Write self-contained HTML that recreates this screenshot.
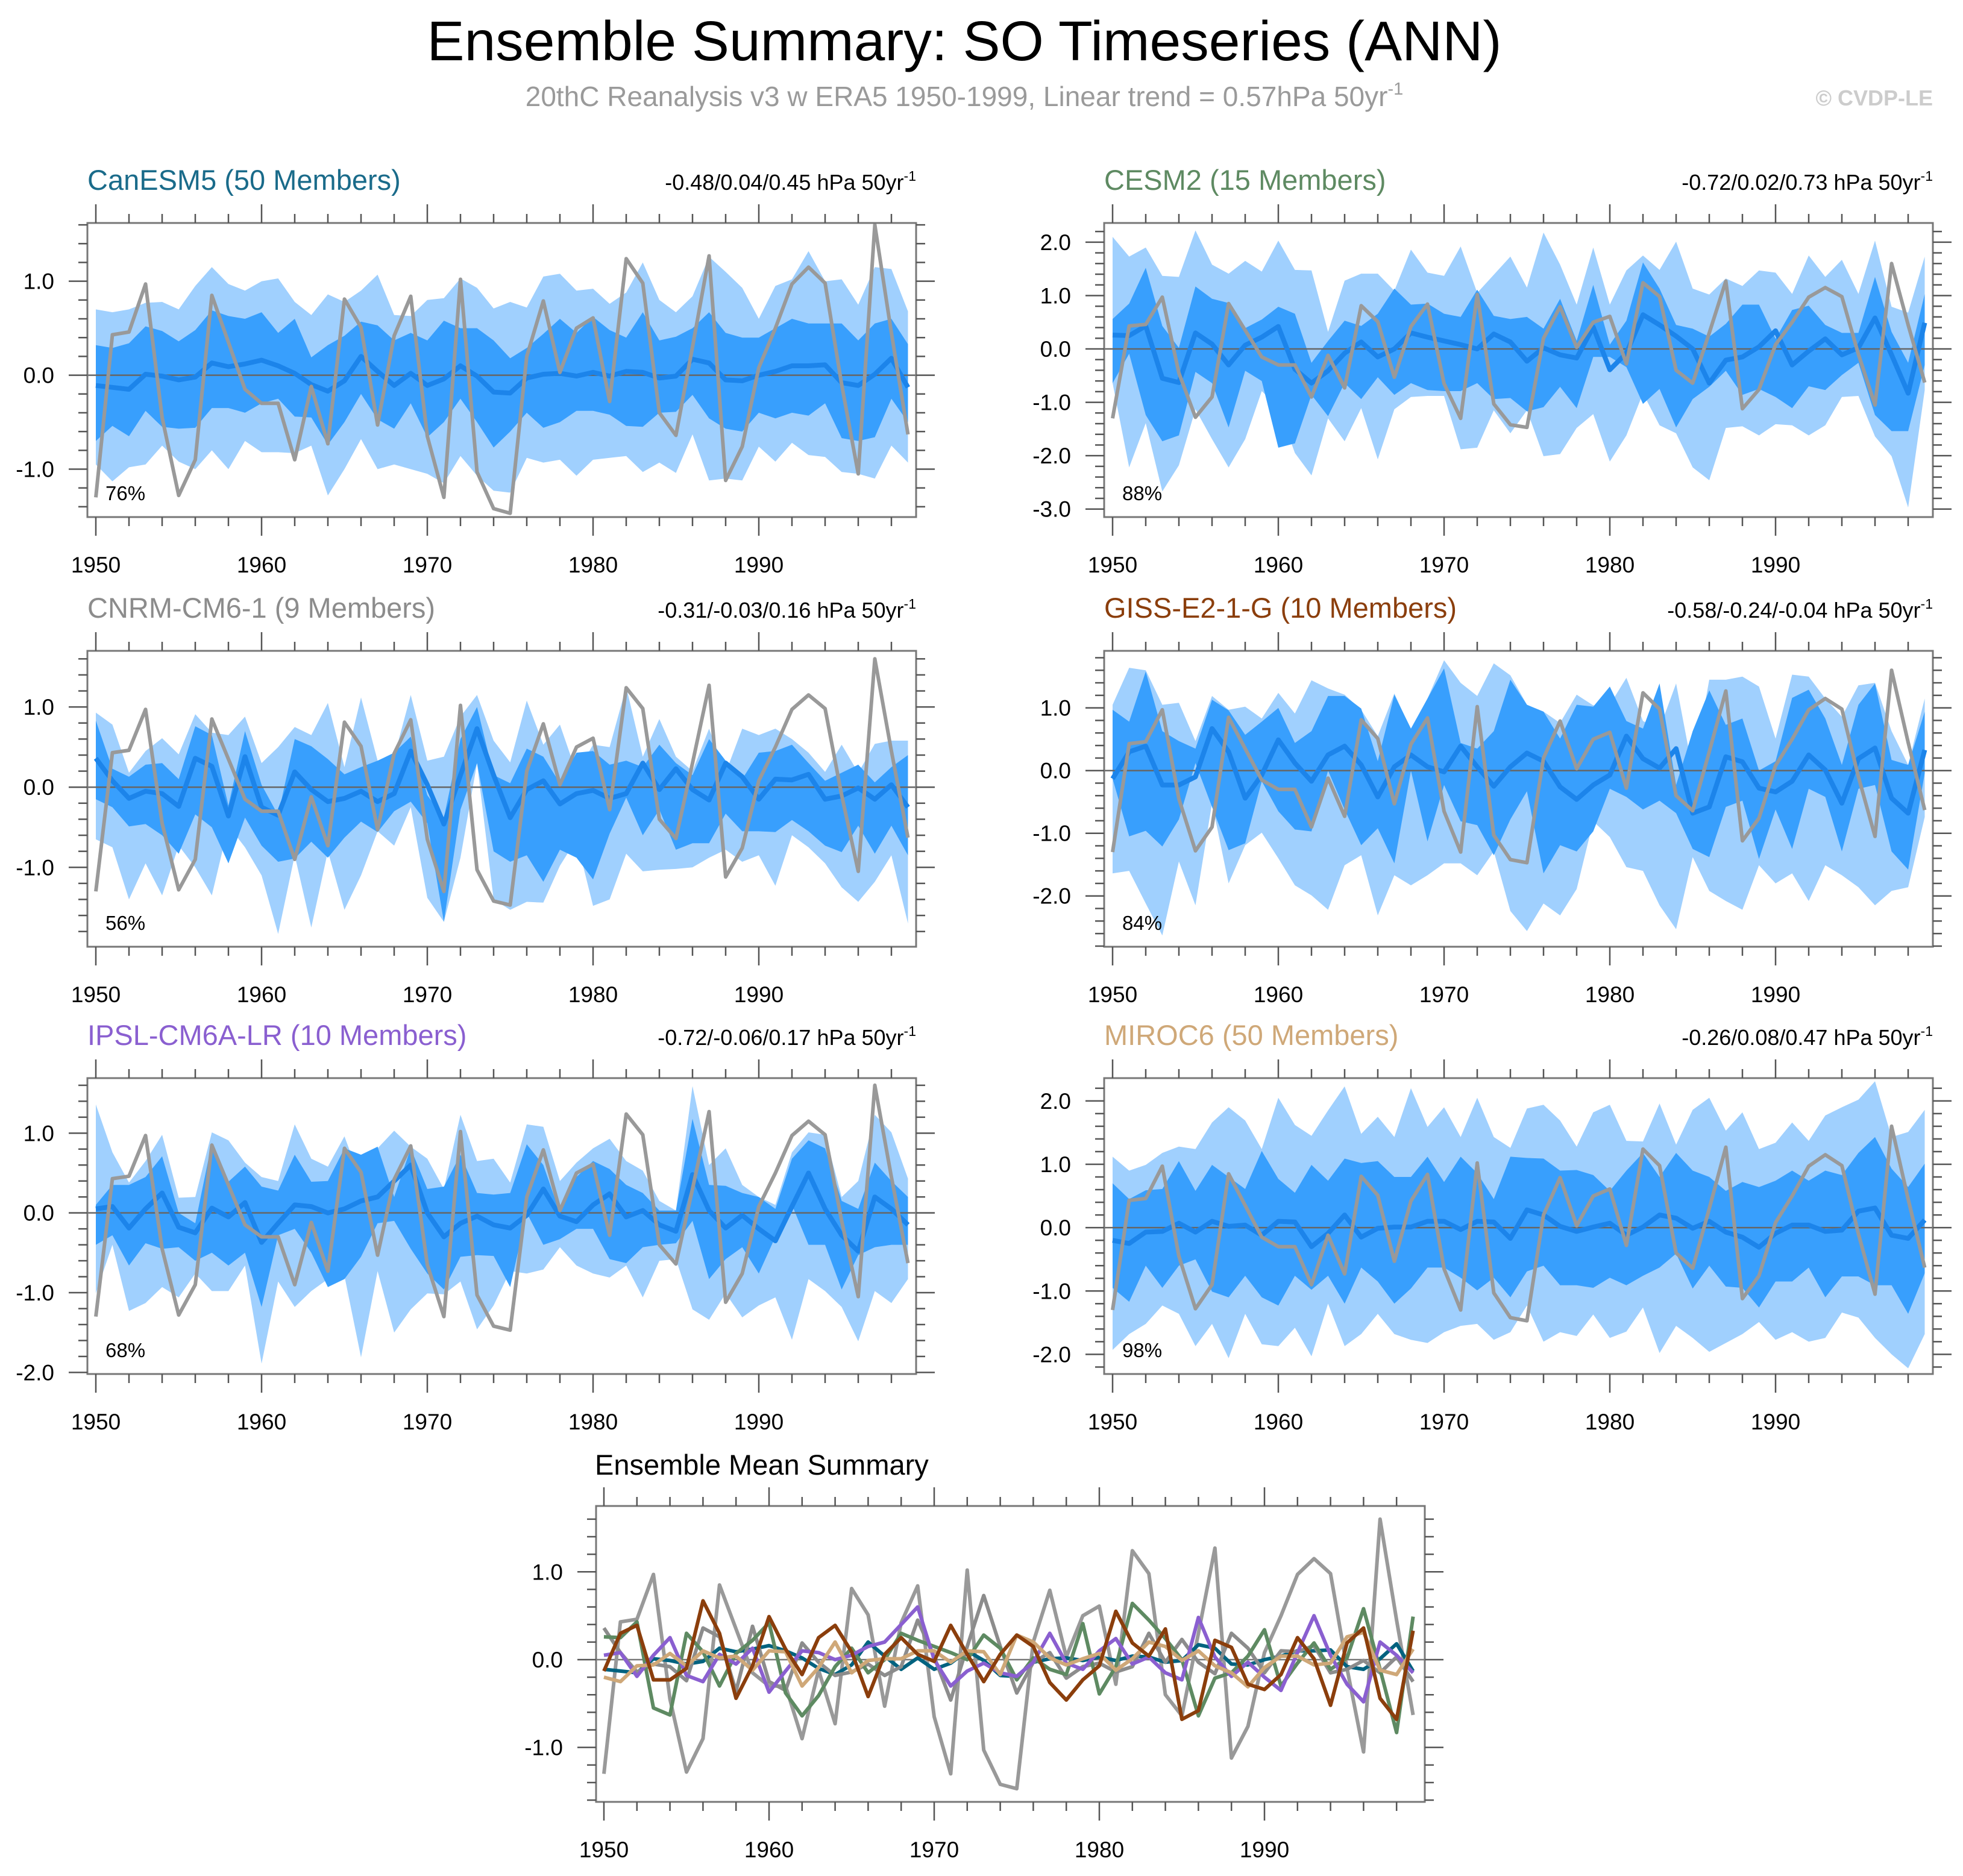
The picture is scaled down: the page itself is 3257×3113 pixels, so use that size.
<!DOCTYPE html>
<html><head><meta charset="utf-8">
<style>
html,body{margin:0;padding:0;background:#fff;}
svg{display:block;font-family:"Liberation Sans",Arial,sans-serif;}
</style></head>
<body>
<svg id="fig" xmlns="http://www.w3.org/2000/svg" width="3257" height="3113" viewBox="0 0 3257 3113">
<rect x="0" y="0" width="3257" height="3113" fill="#fff"/>
<text x="1600" y="100" font-size="93" text-anchor="middle" fill="#000">Ensemble Summary: SO Timeseries (ANN)</text>
<text x="1600" y="176" font-size="46" text-anchor="middle" fill="#9a9a9a">20thC Reanalysis v3 w ERA5 1950-1999, Linear trend = 0.57hPa 50yr<tspan font-size="29" dy="-19">-1</tspan></text>
<text x="3207" y="175" font-size="36" font-weight="bold" text-anchor="end" fill="#cccccc">© CVDP-LE</text>
</svg>
<script>
// ---------- data ----------
const startYear = 1950;
const nYears = 50;
const obsSeries = [-1.30,0.43,0.46,0.97,-0.45,-1.28,-0.90,0.85,0.35,-0.15,-0.30,-0.30,-0.90,-0.12,-0.73,0.81,0.51,-0.53,0.42,0.84,-0.65,-1.30,1.02,-1.03,-1.42,-1.47,0.20,0.79,0.03,0.50,0.61,-0.28,1.24,0.98,-0.40,-0.64,0.30,1.27,-1.12,-0.76,0.08,0.50,0.97,1.15,0.98,-0.10,-1.05,1.60,0.45,-0.63];

const canMean = [-0.11,-0.13,-0.15,0.01,-0.01,-0.05,-0.02,0.13,0.09,0.12,0.16,0.10,0.02,-0.10,-0.17,-0.06,0.20,0.04,-0.11,0.02,-0.11,-0.04,0.10,-0.01,-0.18,-0.19,-0.03,0.01,0.02,-0.01,0.03,-0.01,0.04,0.03,-0.03,-0.01,0.17,0.13,-0.05,-0.06,0.00,0.04,0.10,0.10,0.11,-0.08,-0.11,0.01,0.18,-0.13];
const canOutHi = [0.7,0.67,0.7,0.77,0.78,0.7,0.95,1.15,0.97,0.9,1.0,1.03,0.78,0.64,0.86,0.78,0.9,1.07,0.64,0.63,0.8,0.82,1.03,0.93,0.71,0.78,0.72,1.05,1.08,0.9,0.92,0.76,0.88,1.2,0.8,0.67,0.84,1.26,1.1,0.93,0.6,0.95,1.02,1.32,1.0,1.02,0.75,1.15,1.13,0.68];
const canInHi = [0.32,0.29,0.34,0.52,0.47,0.36,0.48,0.69,0.63,0.6,0.67,0.45,0.6,0.19,0.32,0.42,0.57,0.53,0.37,0.45,0.37,0.58,0.5,0.5,0.37,0.18,0.29,0.44,0.6,0.45,0.62,0.48,0.4,0.67,0.37,0.41,0.5,0.67,0.45,0.4,0.4,0.5,0.6,0.55,0.55,0.55,0.37,0.55,0.6,0.33];
const canInLo = [-0.7,-0.54,-0.65,-0.38,-0.55,-0.57,-0.56,-0.35,-0.35,-0.4,-0.3,-0.25,-0.44,-0.45,-0.74,-0.5,-0.2,-0.47,-0.57,-0.3,-0.66,-0.5,-0.25,-0.5,-0.77,-0.6,-0.4,-0.56,-0.5,-0.38,-0.38,-0.42,-0.54,-0.55,-0.4,-0.39,-0.21,-0.46,-0.57,-0.6,-0.4,-0.46,-0.4,-0.43,-0.3,-0.67,-0.7,-0.66,-0.25,-0.5];
const canOutLo = [-0.95,-1.13,-0.98,-0.95,-0.75,-0.92,-1.0,-0.8,-1.0,-0.7,-0.82,-0.82,-0.83,-0.75,-1.28,-1.0,-0.68,-1.0,-0.95,-1.0,-1.05,-1.15,-0.86,-1.07,-1.23,-1.25,-0.88,-0.93,-0.9,-1.07,-0.9,-0.88,-0.86,-1.03,-0.93,-1.04,-0.63,-1.12,-1.1,-1.12,-0.76,-0.92,-0.72,-0.85,-0.87,-1.03,-1.05,-1.1,-0.75,-0.93];

const cesmMean = [0.26,0.25,0.43,-0.55,-0.63,0.30,0.09,-0.30,0.07,0.22,0.42,-0.38,-0.64,-0.41,-0.08,0.13,-0.15,0.00,0.30,0.22,0.15,0.08,0.00,0.28,0.13,-0.23,0.02,-0.11,-0.17,0.41,-0.39,-0.08,0.64,0.45,0.24,0.00,-0.64,-0.21,-0.15,0.04,0.34,-0.30,-0.04,0.19,-0.11,0.02,0.58,-0.11,-0.83,0.49];
const cesmOutHi = [2.1,1.73,1.9,1.37,1.35,2.22,1.58,1.41,1.65,1.45,2.03,1.48,1.47,0.32,1.28,1.41,1.41,1.09,1.86,1.43,1.37,1.92,1.05,1.39,1.73,1.15,2.18,1.58,0.83,1.9,0.83,1.47,1.75,1.48,2.01,1.13,1.02,1.32,1.18,1.47,1.43,1.03,1.75,1.35,1.67,1.03,2.03,0.79,0.68,1.73];
const cesmInHi = [0.56,0.85,1.52,0.43,0.02,1.17,0.94,0.86,0.39,0.55,0.79,0.66,-0.26,0.15,0.53,0.43,0.66,1.13,0.83,0.85,0.66,0.6,1.11,0.62,0.56,0.6,0.38,0.94,0.15,1.2,0.08,0.53,1.62,1.13,0.45,0.38,0.23,0.47,0.83,0.83,0.19,0.73,0.81,0.45,0.3,0.3,1.35,0.32,-0.26,1.03];
const cesmInLo = [-0.64,-0.09,-1.24,-1.73,-1.62,-0.43,-0.64,-1.47,-0.41,-0.6,-1.85,-1.77,-0.86,-1.26,-0.64,-0.94,-0.53,-0.86,-0.64,-0.77,-0.79,-0.79,-0.64,-0.94,-0.92,-1.17,-1.09,-0.71,-1.11,-0.15,-0.15,-0.34,-1.03,-0.75,-1.47,-0.94,-0.71,-0.41,-0.86,-0.75,-0.9,-1.11,-0.7,-0.77,-0.49,-0.26,-1.24,-1.54,-1.54,-0.3];
const cesmOutLo = [-0.64,-2.22,-1.39,-2.67,-2.18,-1.13,-1.69,-2.22,-1.69,-0.79,-1.09,-1.95,-2.37,-1.3,-1.73,-1.11,-2.07,-1.13,-0.9,-0.88,-0.88,-1.88,-1.85,-1.15,-1.58,-1.15,-2.01,-1.97,-1.48,-1.22,-2.11,-1.62,-0.83,-1.43,-1.58,-2.22,-2.46,-1.48,-1.45,-1.62,-1.41,-1.43,-1.62,-1.43,-0.9,-0.88,-1.64,-2.01,-2.97,-0.77];

const cnrmMean = [0.36,0.08,-0.14,-0.05,-0.08,-0.24,0.36,0.26,-0.36,0.38,-0.25,-0.35,0.19,-0.03,-0.18,-0.14,-0.05,-0.18,-0.08,0.45,0.03,-0.46,0.15,0.73,0.15,-0.38,-0.03,0.08,-0.21,-0.08,-0.04,-0.14,-0.08,0.30,-0.03,0.23,-0.03,-0.16,0.30,0.13,-0.15,0.10,0.09,0.16,-0.15,-0.11,-0.01,-0.15,0.03,-0.25];
const cnrmOutHi = [0.93,0.78,0.18,0.45,0.61,0.41,0.91,0.68,0.65,0.88,0.3,0.5,0.75,0.65,1.05,0.25,1.12,0.33,0.38,1.15,0.33,0.38,0.88,1.15,0.58,0.31,1.08,0.53,0.78,0.18,0.53,0.5,1.25,0.38,0.85,0.38,0.2,0.73,0.18,0.73,0.65,0.73,0.6,0.43,0.19,0.53,0.18,0.54,0.58,0.58];
const cnrmInHi = [0.83,0.23,0.13,0.28,0.3,0.1,0.76,0.65,-0.23,0.7,0.03,-0.35,0.6,0.51,0.35,0.16,0.25,0.33,0.43,0.63,-0.1,-0.38,0.6,1.0,0.15,0.05,0.48,0.38,0.05,0.43,0.45,0.28,0.33,0.25,0.53,0.3,0.15,0.6,0.33,0.1,0.43,0.45,0.53,0.3,0.08,0.18,0.28,0.06,0.25,0.4];
const cnrmInLo = [-0.15,-0.25,-0.49,-0.46,-0.6,-0.83,-0.34,-0.5,-0.95,-0.38,-0.73,-0.93,-0.89,-0.68,-0.88,-0.63,-0.43,-0.56,-0.3,-0.18,-0.45,-1.68,-0.28,0.3,-0.8,-0.93,-0.85,-1.18,-0.78,-0.88,-1.15,-0.58,-0.13,-0.6,-0.28,-0.78,-0.7,-0.7,-0.33,-0.55,-0.55,-0.56,-0.41,-0.55,-0.73,-0.81,-0.48,-0.83,-0.48,-0.85];
const cnrmOutLo = [-0.65,-0.75,-1.4,-0.95,-1.35,-0.73,-1.0,-1.35,-0.48,-0.75,-1.1,-1.83,-0.85,-1.75,-0.8,-1.53,-1.1,-0.55,-0.73,-0.25,-1.38,-1.68,-0.88,0.3,-1.4,-1.53,-1.43,-1.44,-0.98,-0.65,-1.48,-1.4,-0.83,-1.05,-1.03,-1.02,-1.0,-0.88,-0.78,-0.93,-0.85,-1.23,-0.6,-0.75,-0.95,-1.25,-1.43,-1.18,-0.85,-1.7];

const gissMean = [-0.13,0.30,0.39,-0.23,-0.23,-0.10,0.67,0.30,-0.44,-0.07,0.49,0.12,-0.17,0.25,0.39,0.09,-0.42,0.06,0.25,0.06,-0.02,0.39,0.06,-0.25,0.06,0.28,0.15,-0.26,-0.46,-0.23,-0.07,0.55,0.19,0.04,0.35,-0.68,-0.58,0.22,0.14,-0.28,-0.34,-0.17,0.25,0.01,-0.52,0.19,0.36,-0.44,-0.68,0.33];
const gissOutHi = [1.05,1.64,1.6,1.05,1.08,0.47,1.19,0.97,1.02,0.83,1.24,0.91,1.44,1.31,1.21,0.97,0.55,1.23,0.65,1.15,1.76,1.4,1.19,1.71,1.52,1.05,0.94,0.76,1.21,1.04,1.05,1.48,0.79,0.67,1.39,0.0,1.45,1.45,1.5,1.34,0.51,1.53,1.5,1.15,0.86,1.36,1.4,0.63,0.09,1.15];
const gissInHi = [0.97,0.78,1.58,0.63,0.47,0.35,1.13,0.96,0.57,0.78,1.0,0.44,0.63,1.19,1.19,0.99,0.15,1.21,0.67,1.15,1.63,0.44,0.35,0.63,1.45,1.05,0.94,0.51,1.05,1.02,1.34,0.79,0.67,1.39,-0.23,0.63,1.28,0.73,0.83,0.0,0.15,1.16,1.29,0.83,0.09,1.05,1.39,0.17,0.09,0.94];
const gissInLo = [-0.13,-1.05,-0.96,-1.21,-0.78,0.12,-0.58,-1.27,-1.16,-0.17,-0.65,-0.94,-0.97,0.0,-0.62,-1.19,-0.92,-1.48,0.0,-1.13,-0.23,-0.81,-0.87,-1.35,-0.78,-0.33,-1.64,-1.19,-1.29,-0.97,-0.29,-0.42,-0.62,-0.48,-0.68,-1.25,-1.38,-0.58,-0.48,-1.41,-0.62,-1.25,-0.29,-0.42,-1.29,-0.29,-0.23,-1.29,-1.58,-0.04];
const gissOutLo = [-1.64,-1.6,-2.12,-2.63,-1.45,-2.15,-0.52,-1.8,-1.19,-0.99,-1.4,-1.83,-1.99,-2.22,-1.51,-1.35,-2.31,-1.67,-1.83,-1.67,-1.48,-1.48,-1.67,-1.29,-2.24,-2.56,-2.12,-2.31,-1.89,-0.81,-1.06,-1.54,-1.6,-2.15,-2.53,-1.38,-1.92,-2.08,-2.22,-1.51,-1.8,-1.64,-2.08,-1.51,-1.67,-1.86,-2.15,-1.92,-1.86,-0.74];

const ipslMean = [0.05,0.08,-0.19,0.05,0.25,-0.18,-0.25,0.06,-0.05,0.13,-0.37,-0.13,0.10,0.08,0.00,0.05,0.15,0.20,0.40,0.60,0.00,-0.30,-0.13,-0.04,-0.15,-0.19,-0.03,0.30,-0.04,-0.11,0.10,0.24,-0.05,0.03,-0.15,-0.23,0.48,0.03,-0.19,-0.03,-0.20,-0.35,0.08,0.50,0.05,-0.28,-0.48,0.20,0.05,-0.15];
const ipslOutHi = [1.36,0.76,0.38,0.65,0.98,0.19,0.2,1.01,0.91,0.63,0.45,0.4,1.11,0.68,0.58,0.96,0.4,0.81,1.03,0.83,0.68,0.3,1.23,0.65,0.68,0.38,1.11,1.08,0.4,0.63,0.81,0.93,0.65,0.53,0.15,0.03,1.59,0.6,0.81,0.35,0.2,0.1,0.76,1.01,0.98,0.2,0.4,1.23,1.01,0.43];
const ipslInHi = [0.1,0.35,0.35,0.45,0.71,0.0,-0.13,0.88,0.39,0.58,0.33,0.28,0.73,0.39,0.4,0.81,0.73,0.83,0.2,0.81,0.3,0.33,0.73,0.25,0.23,0.25,0.86,0.6,0.0,0.45,0.65,0.55,0.35,0.25,0.03,0.03,1.18,0.35,0.34,0.25,0.2,0.05,0.68,0.91,0.81,0.15,0.05,0.63,0.4,0.2];
const ipslInLo = [-0.4,-0.28,-0.66,-0.38,-0.45,-0.43,-0.6,-0.5,-0.66,-0.5,-1.18,-0.28,-0.2,-0.5,-0.93,-0.83,-0.55,-0.13,-0.1,-0.45,-0.76,-0.96,-0.55,-0.53,-0.54,-0.93,0.0,-0.4,-0.33,-0.2,-0.2,-0.58,-0.63,-0.43,-0.4,-0.38,-0.1,-0.83,-0.58,-0.43,-0.76,-0.3,0.1,-0.4,-0.4,-0.96,-0.53,-0.43,-0.4,-0.4];
const ipslOutLo = [-1.01,-0.4,-1.23,-1.13,-0.93,-1.06,-0.76,-0.98,-0.98,-0.66,-1.89,-0.86,-1.18,-0.98,-0.83,-0.79,-1.81,-0.73,-1.5,-1.21,-1.01,-1.02,-0.86,-1.46,-1.16,-0.73,-0.76,-0.71,-0.43,-0.66,-0.76,-0.81,-0.66,-1.06,-0.6,-0.58,-1.21,-1.34,-1.01,-1.31,-1.16,-1.06,-1.59,-0.83,-0.98,-1.18,-1.61,-0.98,-1.13,-0.83];

const mirocMean = [-0.20,-0.25,-0.07,-0.06,0.07,-0.07,0.10,0.02,0.04,-0.12,0.10,0.09,-0.30,-0.09,0.20,-0.15,-0.01,0.01,0.01,0.10,0.10,-0.03,0.10,0.09,-0.17,0.28,0.20,0.02,-0.06,0.01,0.07,-0.12,0.01,0.20,0.15,-0.01,0.10,-0.07,-0.15,-0.31,-0.09,0.04,0.04,-0.06,-0.04,0.26,0.31,-0.12,-0.17,0.12];
const mirocOutHi = [1.12,0.9,0.99,1.18,1.28,1.24,1.66,1.9,1.69,1.24,2.05,1.62,1.45,1.85,2.23,1.48,1.75,1.43,2.2,1.59,1.9,1.43,2.05,1.43,1.26,1.88,1.94,1.69,1.28,1.82,1.94,1.37,1.36,1.96,1.31,1.86,2.05,1.53,1.82,1.24,1.34,1.66,1.37,1.77,1.9,2.02,2.31,1.43,1.51,1.86];
const mirocInHi = [0.7,0.45,0.59,0.61,1.05,0.58,0.99,0.8,0.61,1.21,0.77,0.55,0.99,0.74,1.09,1.02,1.05,0.8,0.8,1.12,0.72,1.12,0.86,0.45,1.12,1.1,1.09,0.9,0.91,0.83,0.58,0.9,1.18,0.8,1.18,0.9,0.8,0.58,0.72,0.64,0.74,0.9,0.74,0.9,0.83,1.18,1.43,0.93,0.64,1.01];
const mirocInLo = [-0.95,-1.17,-0.6,-0.95,-0.6,-0.5,-1.01,-1.1,-0.76,-1.1,-1.23,-0.76,-0.98,-0.76,-1.2,-0.63,-0.85,-1.2,-0.96,-0.63,-0.63,-0.79,-0.99,-0.79,-1.1,-0.69,-0.6,-0.91,-0.91,-0.95,-0.79,-0.91,-0.76,-0.63,-0.41,-0.96,-0.6,-0.93,-0.95,-1.26,-0.85,-0.85,-0.63,-1.1,-0.77,-0.77,-0.91,-0.91,-1.36,-0.72];
const mirocOutLo = [-1.93,-1.68,-1.52,-1.23,-1.36,-1.87,-1.52,-2.06,-1.36,-1.84,-1.87,-1.58,-2.03,-1.2,-1.87,-1.68,-1.36,-1.68,-1.77,-1.82,-1.65,-1.55,-1.52,-1.77,-1.65,-1.23,-1.8,-1.65,-1.71,-1.37,-1.74,-1.64,-1.26,-1.98,-1.55,-1.74,-1.96,-1.82,-1.68,-1.49,-1.77,-1.65,-1.8,-1.74,-1.34,-1.42,-1.74,-2.0,-2.22,-1.68];

const xTickLabels = ["1950","1960","1970","1980","1990"];
const panelTitles = ["CanESM5 (50 Members)","CESM2 (15 Members)","CNRM-CM6-1 (9 Members)","GISS-E2-1-G (10 Members)","IPSL-CM6A-LR (10 Members)","MIROC6 (50 Members)"];
const trendLabels = ["-0.48/0.04/0.45 hPa 50yr","-0.72/0.02/0.73 hPa 50yr","-0.31/-0.03/0.16 hPa 50yr","-0.58/-0.24/-0.04 hPa 50yr","-0.72/-0.06/0.17 hPa 50yr","-0.26/0.08/0.47 hPa 50yr"];
const pctLabels = ["76%","88%","56%","84%","68%","98%"];

// ---------- drawing ----------
const NS = "http://www.w3.org/2000/svg";
const svg = document.getElementById('fig');
const years = []; for (let i = 0; i < nYears; i++) years.push(startYear + i);

function mk(tag, attrs, parent) {
  const e = document.createElementNS(NS, tag);
  for (const k in attrs) e.setAttribute(k, attrs[k]);
  (parent || svg).appendChild(e);
  return e;
}

function makeAxes(box, ymin, ymax) {
  const x0 = startYear - 14 / 27.5;
  const xs = v => box.x + (v - x0) * 27.5;
  const ys = v => box.y + (ymax - v) / (ymax - ymin) * box.h;
  return {xs, ys};
}

function drawFrame(g, box, ax, ymin, ymax, yLabelVals, prefix) {
  const tk = {stroke: '#555', 'stroke-width': 2.5};
  for (let yr = 1950; yr <= 1998; yr += 2) {
    const X = ax.xs(yr);
    const L = (yr % 10 === 0) ? 31 : 15;
    const t1 = mk('line', Object.assign({x1: X, x2: X, y1: box.y, y2: box.y - L}, tk), g);
    
    
    const t2 = mk('line', Object.assign({x1: X, x2: X, y1: box.y + box.h, y2: box.y + box.h + L}, tk), g);
    
    
  }
  const s = Math.ceil(ymin * 5 - 1e-6), e = Math.floor(ymax * 5 + 1e-6);
  for (let k = s; k <= e; k++) {
    const v = k / 5, Y = ax.ys(v);
    const L = (k % 5 === 0) ? 31 : 15;
    const t1 = mk('line', Object.assign({x1: box.x, x2: box.x - L, y1: Y, y2: Y}, tk), g);
    
    
    const t2 = mk('line', Object.assign({x1: box.x + box.w, x2: box.x + box.w + L, y1: Y, y2: Y}, tk), g);
    
    
  }
  xTickLabels.forEach(lab => {
    const t = mk('text', {x: ax.xs(+lab), y: box.y + box.h + 92, 'font-size': 37, 'text-anchor': 'middle', fill: '#000'}, g);
    t.textContent = lab;
    
    
  });
  yLabelVals.forEach(v => {
    const t = mk('text', {x: box.x - 55, y: ax.ys(v) + 13, 'font-size': 37, 'text-anchor': 'end', fill: '#000'}, g);
    t.textContent = v.toFixed(1);
    
    
  });
}

function bandPath(ax, hi, lo) {
  let d = '';
  years.forEach((yr, i) => { d += (i ? 'L' : 'M') + ax.xs(yr).toFixed(1) + ',' + ax.ys(hi[i]).toFixed(1); });
  for (let i = years.length - 1; i >= 0; i--) d += 'L' + ax.xs(years[i]).toFixed(1) + ',' + ax.ys(lo[i]).toFixed(1);
  return d + 'Z';
}
function linePath(ax, vals) {
  let d = '';
  years.forEach((yr, i) => { d += (i ? 'L' : 'M') + ax.xs(yr).toFixed(1) + ',' + ax.ys(vals[i]).toFixed(1); });
  return d;
}

const panels = [
  {box:{x:145,y:370,w:1375,h:488}, ymin:-1.51, ymax:1.62, yl:[-1,0,1], col:'#1a6b8a', d:[canMean,canOutHi,canInHi,canInLo,canOutLo]},
  {box:{x:1832,y:370,w:1375,h:488}, ymin:-3.15, ymax:2.36, yl:[-3,-2,-1,0,1,2], col:'#5e8a62', d:[cesmMean,cesmOutHi,cesmInHi,cesmInLo,cesmOutLo]},
  {box:{x:145,y:1080,w:1375,h:491}, ymin:-1.99, ymax:1.70, yl:[-1,0,1], col:'#8c8c8c', d:[cnrmMean,cnrmOutHi,cnrmInHi,cnrmInLo,cnrmOutLo]},
  {box:{x:1832,y:1080,w:1375,h:491}, ymin:-2.81, ymax:1.91, yl:[-2,-1,0,1], col:'#8b3e0c', d:[gissMean,gissOutHi,gissInHi,gissInLo,gissOutLo]},
  {box:{x:145,y:1789,w:1375,h:491}, ymin:-2.02, ymax:1.69, yl:[-2,-1,0,1], col:'#8a5fd0', d:[ipslMean,ipslOutHi,ipslInHi,ipslInLo,ipslOutLo]},
  {box:{x:1832,y:1789,w:1375,h:491}, ymin:-2.31, ymax:2.36, yl:[-2,-1,0,1,2], col:'#cfa878', d:[mirocMean,mirocOutHi,mirocInHi,mirocInLo,mirocOutLo]}
];

panels.forEach((p, i) => {
  const prefix = 'panel-' + (i + 1);
  const g = mk('g', {});
  
  
  const ax = makeAxes(p.box, p.ymin, p.ymax);
  const [mean, oHi, iHi, iLo, oLo] = p.d;
  const ob = mk('path', {d: bandPath(ax, oHi, oLo), fill: '#a0d0fe'}, g);
  
  
  const ib = mk('path', {d: bandPath(ax, iHi, iLo), fill: '#389ffd'}, g);
  
  
  const zl = mk('line', {x1: p.box.x, x2: p.box.x + p.box.w, y1: ax.ys(0), y2: ax.ys(0), stroke: '#666', 'stroke-width': 2.5}, g);
  
  
  const ml = mk('path', {d: linePath(ax, mean), fill: 'none', stroke: '#1c84ea', 'stroke-width': 8, 'stroke-linejoin': 'round'}, g);
  
  
  const ol = mk('path', {d: linePath(ax, obsSeries), fill: 'none', stroke: '#999999', 'stroke-width': 6, 'stroke-linejoin': 'round'}, g);
  
  
  const fr = mk('rect', {x: p.box.x, y: p.box.y, width: p.box.w, height: p.box.h, fill: 'none', stroke: '#777', 'stroke-width': 3}, g);
  
  
  drawFrame(g, p.box, ax, p.ymin, p.ymax, p.yl, prefix);
  const tt = mk('text', {x: p.box.x, y: p.box.y - 55, 'font-size': 47, fill: p.col}, g);
  tt.textContent = panelTitles[i];
  
  
  const tr = mk('text', {x: p.box.x + p.box.w, y: p.box.y - 55, 'font-size': 36, 'text-anchor': 'end', fill: '#000'}, g);
  tr.textContent = trendLabels[i];
  const sup = mk('tspan', {'font-size': 23, dy: -15}, tr);
  sup.textContent = '-1';
  
  
  const pc = mk('text', {x: p.box.x + 30, y: p.box.y + p.box.h - 28, 'font-size': 33, fill: '#000'}, g);
  pc.textContent = pctLabels[i];
  
  
});

// ---------- ensemble mean summary ----------
(function () {
  const box = {x:989, y:2499, w:1375, h:491};
  const ymin = -1.62, ymax = 1.75;
  const ax = {xs: v => 1002 + (v - startYear) * 27.4, ys: v => box.y + (ymax - v) / (ymax - ymin) * box.h};
  const g = mk('g', {});
  
  
  const zl = mk('line', {x1: box.x, x2: box.x + box.w, y1: ax.ys(0), y2: ax.ys(0), stroke: '#777', 'stroke-width': 2.5}, g);
  
  
  const ol = mk('path', {d: linePath(ax, obsSeries), fill: 'none', stroke: '#999999', 'stroke-width': 6, 'stroke-linejoin': 'round'}, g);
  
  
  const order = [0, 2, 1, 4, 5, 3];
  order.forEach(i => {
    const p = panels[i];
    const l = mk('path', {d: linePath(ax, p.d[0]), fill: 'none', stroke: i === 0 ? '#00627f' : p.col, 'stroke-width': 6, 'stroke-linejoin': 'round'}, g);
    
    
  });
  const fr = mk('rect', {x: box.x, y: box.y, width: box.w, height: box.h, fill: 'none', stroke: '#777', 'stroke-width': 3}, g);
  
  
  drawFrame(g, box, ax, ymin, ymax, [-1, 0, 1], 'summary');
  const tt = mk('text', {x: 987, y: 2447, 'font-size': 47, fill: '#000'}, g);
  tt.textContent = 'Ensemble Mean Summary';
  
  
})();
</script>
</body></html>
